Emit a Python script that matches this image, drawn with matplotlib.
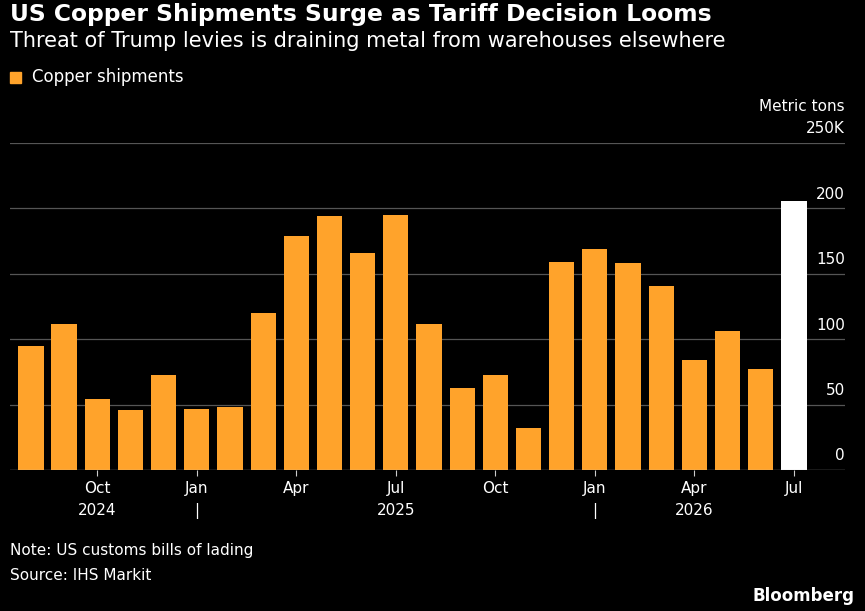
import matplotlib.pyplot as plt
import numpy as np

months = ["Aug", "Sep", "Oct", "Nov", "Dec", "Jan", "Feb", "Mar", "Apr", "May", "Jun", "Jul",
          "Aug", "Sep", "Oct", "Nov", "Dec", "Jan", "Feb", "Mar", "Apr", "May", "Jun", "Jul"]
shipments = [95, 112, 54, 46, 73, 47, 48, 120, 179, 194, 166, 195,
             112, 63, 73, 32, 159, 169, 158, 141, 84, 106, 77, 206]
shown_ticks = [2, 5, 8, 11, 14, 17, 20, 23]
year_labels = {2: "2024", 11: "2025", 20: "2026"}
year_breaks = [5, 17]
y_ticks = [0, 50, 100, 150, 200, 250]
y_labels = ["0", "50", "100", "150", "200", "250K"]

ORANGE = "#ffa32b"
fig = plt.figure(figsize=(8.65, 6.11), dpi=100, facecolor="black")
ax = fig.add_axes([10 / 865, 141 / 611, 835 / 865, 327 / 611], facecolor="black")

x = np.arange(len(shipments))
colors = [ORANGE] * (len(shipments) - 1) + ["white"]
ax.bar(x, shipments, width=0.76, color=colors, zorder=3)
ax.set_xlim(-0.63, 24.54)
ax.set_ylim(0, 250)

for v, lab in zip(y_ticks, y_labels):
    ax.axhline(v, color="#555555" if v else "#cccccc", lw=0.9, zorder=1 if v else 4)
    ax.text(1.0, v + 5, lab, transform=ax.get_yaxis_transform(), ha="right", va="bottom",
            color="white", fontsize=11)
ax.text(1.0, 1.09, "Metric tons", transform=ax.transAxes, ha="right", va="bottom",
        color="white", fontsize=11)

for s in ax.spines.values():
    s.set_visible(False)
ax.set_yticks([])
ax.set_xticks(shown_ticks)
ax.set_xticklabels([months[i] for i in shown_ticks], color="white", fontsize=11)
ax.tick_params(axis="x", length=4, color="#cccccc", pad=4)
for i, yr in year_labels.items():
    ax.text(i, -0.125, yr, transform=ax.get_xaxis_transform(), ha="center", va="center",
            color="white", fontsize=11)
for i in year_breaks:
    ax.text(i, -0.125, "|", transform=ax.get_xaxis_transform(), ha="center", va="center",
            color="white", fontsize=11)

fig.text(10 / 865, 1 - 14 / 611, "US Copper Shipments Surge as Tariff Decision Looms",
         color="white", fontsize=16.8, fontweight="bold", va="center")
fig.text(10 / 865, 1 - 41 / 611, "Threat of Trump levies is draining metal from warehouses elsewhere",
         color="white", fontsize=15, va="center")
fig.patches.append(plt.Rectangle((10 / 865, 1 - 83 / 611), 11 / 865, 11 / 611,
                                 transform=fig.transFigure, color=ORANGE))
fig.text(32 / 865, 1 - 77 / 611, "Copper shipments", color="white", fontsize=12, va="center")
fig.text(10 / 865, 1 - 551 / 611, "Note: US customs bills of lading", color="white", fontsize=11, va="center")
fig.text(10 / 865, 1 - 575 / 611, "Source: IHS Markit", color="white", fontsize=11, va="center")
fig.text(855 / 865, 1 - 596 / 611, "Bloomberg", color="white", fontsize=12, fontweight="bold",
         ha="right", va="center")

fig.savefig("out.png", dpi=100, facecolor="black")
